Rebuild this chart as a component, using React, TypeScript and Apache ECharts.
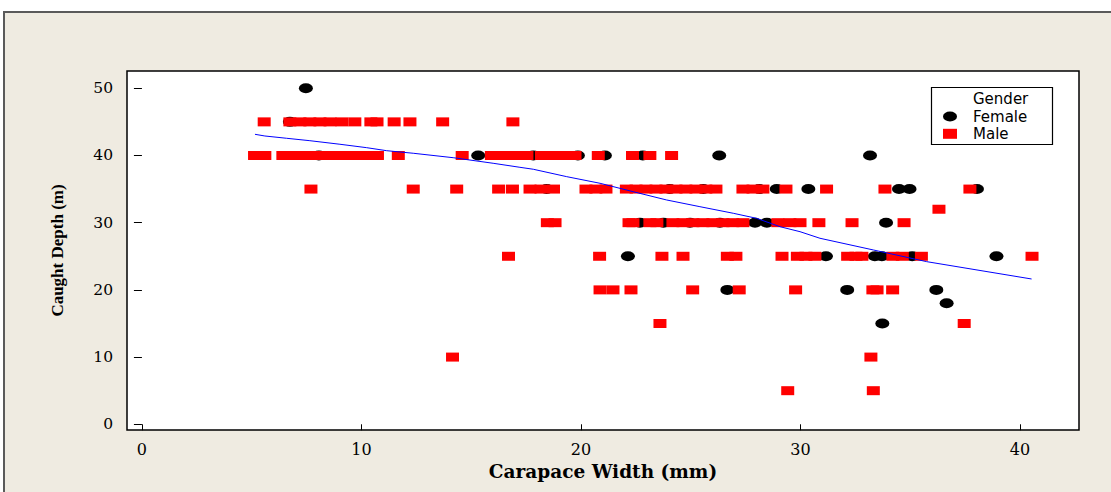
import React, { useEffect, useRef } from "react";
import * as echarts from "echarts";

const xTicks = [0, 10, 20, 30, 40];
const yTicks = [0, 10, 20, 30, 40, 50];

const femaleWidth = [
  7.47,
  6.74,
  8.06, 15.32, 17.83, 19.86, 21.09, 22.82, 26.3, 33.17,
  18.44, 24.05, 25.57, 28.12, 28.92, 30.36, 34.49, 34.97, 38.04,
  22.69, 23.76, 24.97, 26.33, 27.93, 28.47, 33.9,
  22.14, 31.16, 33.39, 33.71, 35.09, 38.93,
  26.67, 32.13, 36.19,
  36.66,
  33.73,
];
const femaleDepth = [
  50,
  45,
  40, 40, 40, 40, 40, 40, 40, 40,
  35, 35, 35, 35, 35, 35, 35, 35, 35,
  30, 30, 30, 30, 30, 30, 30,
  25, 25, 25, 25, 25, 25,
  20, 20, 20,
  18,
  15,
];

const maleWidth = [
  5.57, 6.74, 7.2, 7.65, 8.11, 8.57, 9.11, 9.7, 10.43, 10.71, 11.49, 12.21, 13.7, 16.9,
  5.13, 5.6, 6.42, 6.88, 7.33, 7.79, 8.25, 8.7, 9.16, 9.61, 10.07, 10.43, 10.73, 11.68, 14.59,
  15.92, 16.31, 16.77, 17.22, 17.54, 18.2, 18.59, 19.04, 19.41, 19.73, 20.79, 22.35, 23.14, 24.13,
  7.7, 12.36, 14.34, 16.25, 16.88, 17.68, 18.18, 18.75, 20.23, 20.68, 21.14, 22.07, 22.51, 22.96,
  23.42, 23.87, 24.33, 24.78, 25.24, 25.69, 26.15, 27.38, 27.84, 28.29, 29.34, 31.19, 33.85, 37.72,
  36.31,
  18.47, 18.82, 22.19, 22.37, 23.14, 23.46, 24.19, 24.65, 25.1, 25.56, 26.01, 26.47, 26.92, 27.38,
  28.97, 29.52, 29.98, 30.84, 32.35, 34.72,
  16.7, 20.85, 23.69, 24.65, 26.67, 27.06, 29.16, 29.86, 30.25, 30.66, 32.15, 32.53, 32.8, 34.21,
  34.64, 35.51, 40.55,
  20.87, 21.46, 22.28, 25.09, 27.21, 29.78, 33.3, 33.49, 34.2,
  23.6, 37.46,
  14.15, 33.21,
  29.42, 33.32,
];
const maleDepth = [
  45, 45, 45, 45, 45, 45, 45, 45, 45, 45, 45, 45, 45, 45,
  40, 40, 40, 40, 40, 40, 40, 40, 40, 40, 40, 40, 40, 40, 40,
  40, 40, 40, 40, 40, 40, 40, 40, 40, 40, 40, 40, 40, 40,
  35, 35, 35, 35, 35, 35, 35, 35, 35, 35, 35, 35, 35, 35,
  35, 35, 35, 35, 35, 35, 35, 35, 35, 35, 35, 35, 35, 35,
  32,
  30, 30, 30, 30, 30, 30, 30, 30, 30, 30, 30, 30, 30, 30,
  30, 30, 30, 30, 30, 30,
  25, 25, 25, 25, 25, 25, 25, 25, 25, 25, 25, 25, 25, 25,
  25, 25, 25,
  20, 20, 20, 20, 20, 20, 20, 20, 20,
  15, 15,
  10, 10,
  5, 5,
];

const fitWidth = [
  5.15, 5.6, 6.59, 7.65, 9.02, 10.24, 11.15, 12.36, 14.18, 16.0, 17.22, 17.83, 19.35,
  20.87, 22.38, 23.9, 25.42, 26.94, 28.0, 29.07, 29.98, 30.89, 33.32, 35.75, 40.53,
];
const fitDepth = [
  43.15, 42.9, 42.56, 42.2, 41.67, 41.16, 40.71, 40.33, 39.67, 38.84, 38.24, 37.95, 36.85,
  35.86, 34.61, 33.38, 32.38, 31.4, 30.65, 29.4, 28.66, 27.68, 25.94, 24.2, 21.62,
];

const ellipse = "path://M0,5A7,5,0,1,1,14,5A7,5,0,1,1,0,5Z";

export default function App() {
  const ref = useRef<HTMLDivElement>(null);

  useEffect(() => {
    if (!ref.current) return;
    const chart = echarts.init(ref.current, null, { renderer: "svg" });
    chart.setOption({
      animation: false,
      backgroundColor: "#ffffff",
      graphic: [
        {
          type: "rect",
          z: -10,
          shape: { x: 4, y: 12, width: 1200, height: 600 },
          style: { fill: "#EFEBE1", stroke: "#5a5a5a", lineWidth: 2 },
        },
        {
          type: "rect",
          z: 3,
          shape: { x: 931.5, y: 87.5, width: 121, height: 57 },
          style: { fill: "#ffffff", stroke: "#000000", lineWidth: 1.2 },
        },
        {
          type: "text",
          z: 5,
          x: 973,
          y: 99,
          style: {
            text: "Gender",
            fill: "#000000",
            fontFamily: "DejaVu Sans",
            fontSize: 15,
            align: "left",
            verticalAlign: "middle",
          },
        },
      ],
      grid: {
        left: 127,
        right: 32,
        top: 71,
        bottom: 62,
        show: true,
        backgroundColor: "#ffffff",
        borderColor: "#000000",
        borderWidth: 1.5,
      },
      legend: {
        orient: "vertical",
        left: 943,
        top: 109,
        padding: 0,
        itemGap: 2.3,
        itemWidth: 14,
        itemHeight: 10,
        z: 6,
        data: ["Female", "Male"],
        textStyle: {
          fontFamily: "DejaVu Sans",
          fontSize: 15,
          lineHeight: 15,
          color: "#000000",
          padding: [0, 0, 0, 11],
        },
      },
      xAxis: {
        type: "value",
        min: -0.68,
        max: 42.69,
        axisLine: { show: false },
        splitLine: { show: false },
        axisTick: {
          show: true,
          customValues: xTicks,
          length: 6,
          lineStyle: { color: "#000000", width: 1 },
        },
        axisLabel: {
          customValues: xTicks,
          margin: 11,
          color: "#000000",
          fontFamily: "DejaVu Serif",
          fontSize: 16,
        },
        name: "Carapace Width (mm)",
        nameLocation: "middle",
        nameGap: 28,
        nameTextStyle: {
          fontFamily: "DejaVu Serif",
          fontWeight: "bold",
          fontSize: 18.5,
          color: "#000000",
        },
      },
      yAxis: {
        type: "value",
        min: -0.85,
        max: 52.57,
        axisLine: { show: false },
        splitLine: { show: false },
        axisTick: {
          show: true,
          customValues: yTicks,
          length: 8,
          lineStyle: { color: "#000000", width: 1 },
        },
        axisLabel: {
          customValues: yTicks,
          margin: 14,
          color: "#000000",
          fontFamily: "DejaVu Serif",
          fontSize: 15.5,
        },
        name: "Caught Depth (m)",
        nameLocation: "middle",
        nameGap: 61,
        nameTextStyle: {
          fontFamily: "Liberation Serif",
          fontWeight: "bold",
          fontSize: 17,
          color: "#000000",
        },
      },
      series: [
        {
          name: "Female",
          type: "scatter",
          symbol: ellipse,
          symbolSize: [14, 10],
          z: 2,
          itemStyle: { color: "#000000", opacity: 1 },
          data: femaleWidth.map((w, i) => [w, femaleDepth[i]]),
        },
        {
          name: "Male",
          type: "scatter",
          symbol: "rect",
          symbolSize: [13, 9],
          z: 3,
          itemStyle: { color: "#FF0000", opacity: 1 },
          data: maleWidth.map((w, i) => [w, maleDepth[i]]),
        },
        {
          name: "Fit",
          type: "line",
          showSymbol: false,
          symbol: "none",
          z: 4,
          lineStyle: { color: "#0000FF", width: 1 },
          data: fitWidth.map((w, i) => [w, fitDepth[i]]),
        },
      ],
    });
    return () => chart.dispose();
  }, []);

  return (
    <div
      ref={ref}
      style={{ position: "absolute", left: 0, top: 0, width: 1111, height: 492 }}
    />
  );
}
